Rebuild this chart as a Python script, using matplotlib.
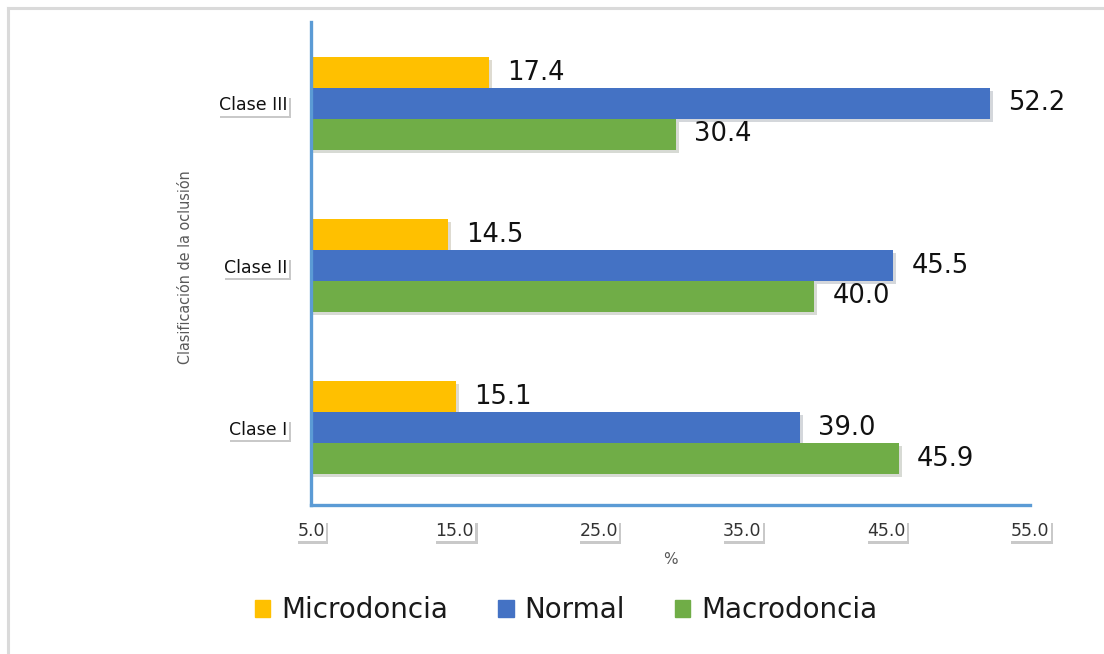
import matplotlib
matplotlib.use("Agg")
import matplotlib.pyplot as plt
import matplotlib.patheffects as pe
from matplotlib.lines import Line2D
import numpy as np

# data
categories = ["Clase I", "Clase II", "Clase III"]
series = ["Microdoncia", "Normal", "Macrodoncia"]
microdoncia = [15.1, 14.5, 17.4]
normal = [39.0, 45.5, 52.2]
macrodoncia = [45.9, 40.0, 30.4]
xticks = [5.0, 15.0, 25.0, 35.0, 45.0, 55.0]

colors = ["#FFC000", "#4472C4", "#70AD47"]
axis_blue = "#5B9BD5"

fig = plt.figure(figsize=(11.04, 6.54), dpi=100)
ax = fig.add_axes([0.2817, 0.2278, 0.6513, 0.7386])

h = 0.191
y = np.arange(len(categories))
shadow = [pe.SimplePatchShadow(offset=(2.2, -2.2), alpha=0.18), pe.Normal()]

handles = []
for k, (name, vals) in enumerate(zip(series, [microdoncia, normal, macrodoncia])):
    pos = y + (1 - k) * h
    bars = ax.barh(pos, vals, height=h, color=colors[k], zorder=2)
    for b in bars:
        b.set_path_effects(shadow)
    handles.append(plt.Rectangle((0, 0), 1, 1, color=colors[k], label=name))
    for p, v in zip(pos, vals):
        ax.annotate("%.1f" % v, (v, p), xytext=(13, 0), textcoords="offset points",
                    va="center", ha="left", fontsize=18.5, color="#111111",
                    family="DejaVu Sans")

ax.set_xlim(5, 55)
ax.set_ylim(-0.478, 2.503)
ax.set_xticks(xticks)
ax.set_xticklabels(["%.1f" % t for t in xticks])
ax.set_yticks(y)
ax.set_yticklabels(categories)

for s in ["top", "right"]:
    ax.spines[s].set_visible(False)
for s in ["left", "bottom"]:
    ax.spines[s].set_color(axis_blue)
    ax.spines[s].set_linewidth(2.4)
    ax.spines[s].set_zorder(3)

ax.tick_params(axis="x", length=0, pad=12, labelsize=12.5, labelcolor="#333333")
ax.tick_params(axis="y", length=0, pad=17, labelsize=12.5, labelcolor="#111111")

box_shadow = [pe.SimplePatchShadow(offset=(1.5, -1.8), alpha=0.3), pe.Normal()]
for lbl in ax.get_xticklabels() + ax.get_yticklabels():
    lbl.set_bbox(dict(facecolor="white", edgecolor="none", pad=1.0))
    lbl.get_bbox_patch().set_path_effects(box_shadow)

ax.set_xlabel("%", fontsize=11, color="#595959", labelpad=9)

fig.text(0.1676, 0.592, "Clasificación de la oclusión", rotation=90,
         ha="center", va="center", fontsize=11.5, color="#595959",
         family="DejaVu Sans", fontstretch="condensed")

leg = fig.legend(handles=handles, loc="center", bbox_to_anchor=(0.513, 0.067), ncol=3,
                 frameon=False, fontsize=20, handlelength=0.55, handleheight=0.55,
                 handletextpad=0.4, columnspacing=1.8)
for t in leg.get_texts():
    t.set_color("#1a1a1a")

# light frame on left and top
fig.add_artist(Line2D([0.0072, 0.0072], [0, 0.988], transform=fig.transFigure,
                      color="#DADADA", lw=2.2))
fig.add_artist(Line2D([0.0072, 1.0], [0.988, 0.988], transform=fig.transFigure,
                      color="#DADADA", lw=2.2))

fig.savefig("out.png", dpi=100)
